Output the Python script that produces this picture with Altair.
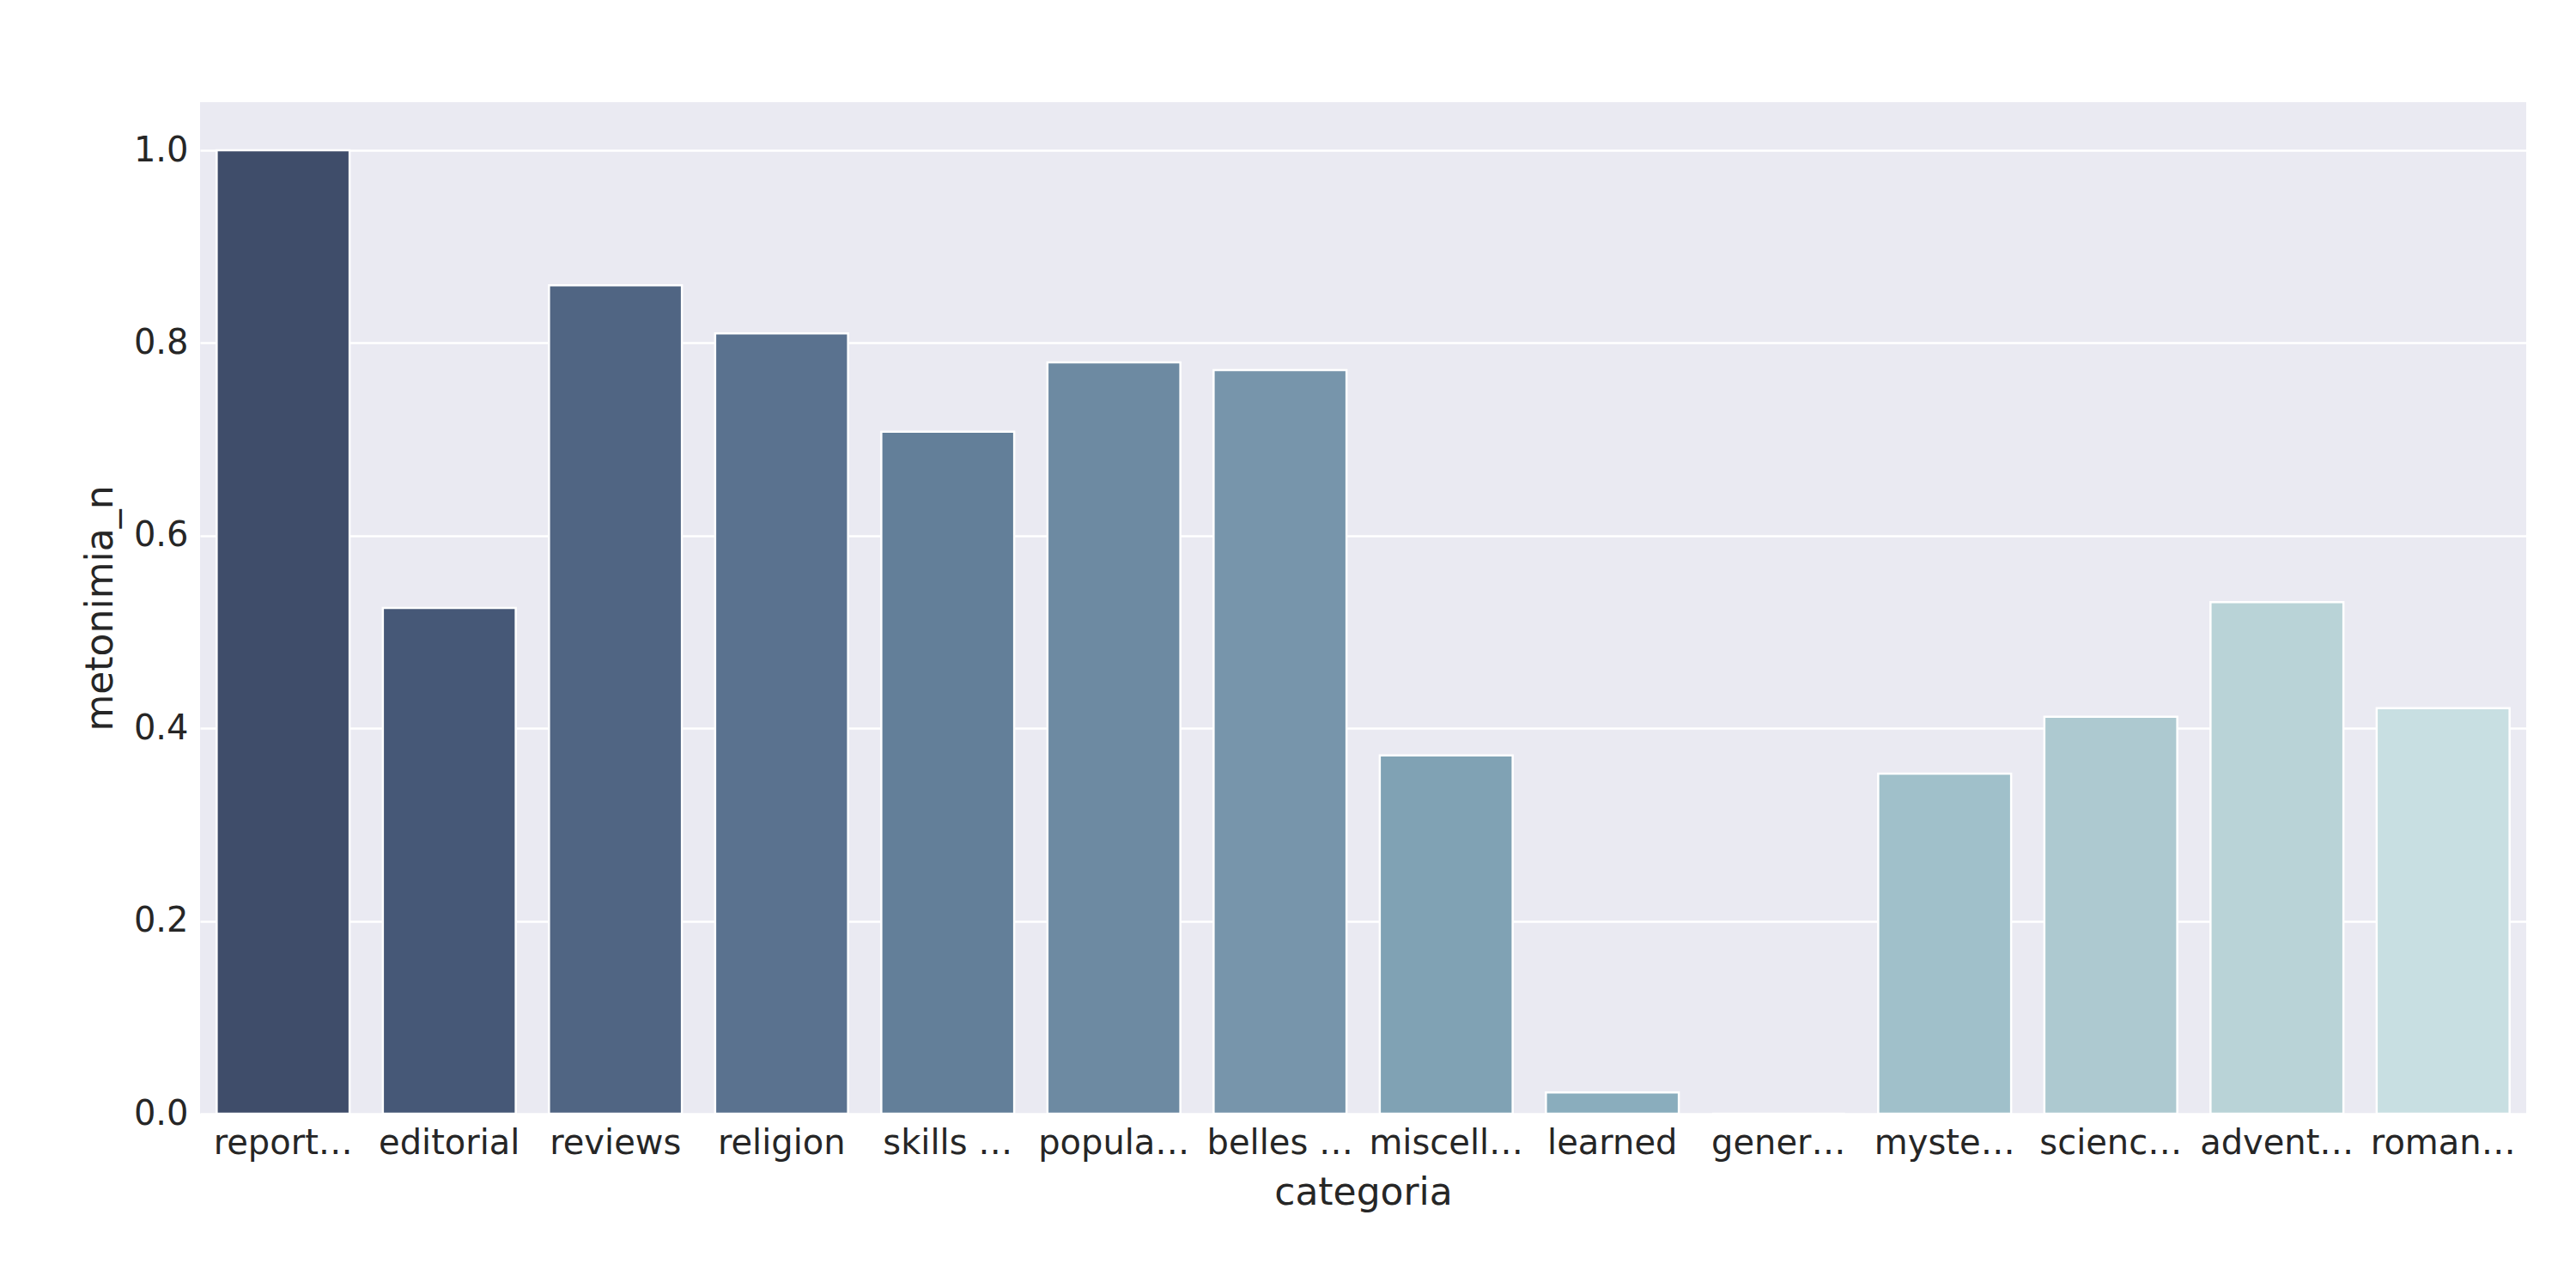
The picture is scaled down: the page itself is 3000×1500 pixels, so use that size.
import pandas as pd
import altair as alt

categories = [
    "reportage", "editorial", "reviews", "religion", "skills & hobbies",
    "popular lore", "belles lettres", "miscellaneous", "learned",
    "general fiction", "mystery and detective fiction", "science fiction",
    "adventure and western fiction", "romance and love story",
]
values = [1.0, 0.525, 0.86, 0.81, 0.708, 0.78, 0.772, 0.372, 0.022,
          0.0, 0.353, 0.412, 0.531, 0.421]
palette = ["#3f4d6a", "#465877", "#506583", "#5a728f", "#637f99", "#6d8aa2",
           "#7795ab", "#80a2b4", "#8aadbd", "#95b7c3", "#a0c0ca", "#adc9d0",
           "#b9d3d7", "#c8dfe2"]

df = pd.DataFrame({"categoria": categories, "metonimia_n": values})

chart = (
    alt.Chart(df)
    .mark_bar(stroke="white", strokeWidth=2.5)
    .encode(
        x=alt.X("categoria:N", sort=categories, title="categoria",
                scale=alt.Scale(paddingInner=0.2, paddingOuter=0.1),
                axis=alt.Axis(labelAngle=0, labelOverlap=False, ticks=False,
                              domain=False, grid=False, labelPadding=14)),
        y=alt.Y("metonimia_n:Q", title="metonimia_n",
                scale=alt.Scale(domain=[0, 1.05], nice=False),
                axis=alt.Axis(values=[0, 0.2, 0.4, 0.6, 0.8, 1.0], format=".1f",
                              ticks=False, domain=False, gridColor="white",
                              gridWidth=2.5, labelPadding=14)),
        color=alt.Color("categoria:N", sort=categories, legend=None,
                        scale=alt.Scale(domain=categories, range=palette)),
    )
    .properties(
        width=2709, height=1178,
        autosize=alt.AutoSizeParams(type="none"),
        padding={"left": 225, "top": 111, "right": 50, "bottom": 180},
    )
    .configure_view(fill="#eaeaf2", stroke=None)
    .configure_axis(labelFont="DejaVu Sans", titleFont="DejaVu Sans",
                    labelFontSize=40, titleFontSize=44, labelColor="#262626",
                    titleColor="#262626", titleFontWeight="normal", titlePadding=16)
)

chart.save("out.html", embed_options={"renderer": "svg", "actions": False})
